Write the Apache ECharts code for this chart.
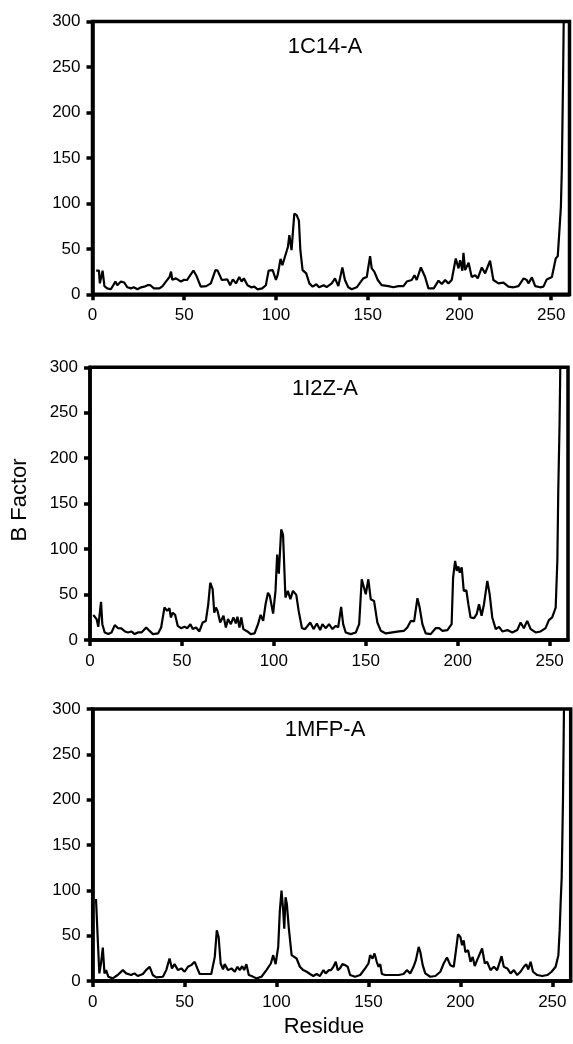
<!DOCTYPE html>
<html><head><meta charset="utf-8">
<script src="https://cdn.jsdelivr.net/npm/echarts@6/dist/echarts.min.js"></script>
<style>html,body{margin:0;padding:0;background:#fff}#c{width:573px;height:1044px}</style>
</head><body><div id="c"></div>
<script>
const panelTitles = ['1C14-A', '1I2Z-A', '1MFP-A'];
const xTickValues = [0, 50, 100, 150, 200, 250];
const xAxisTitle = 'Residue';
const yAxisTitle = 'B Factor';

// 1C14-A
const res1 = [2,3.5,4,5.5,6.5,8,10,12.5,13.5,15.5,17.3,19,21,22.5,24.5,26.5,28.2,30,31.5,33.5,36.5,38.2,40,42,42.8,43.5,45.5,48.2,50,51.5,53.3,55,56.5,57.5,59,62,64.5,67,68.2,70.5,71.5,73.5,75,76.5,78.2,80,81.3,82.5,84.5,86.5,88.2,90,92.5,94.5,96,98.2,100,101,102.5,103.5,106.5,107.3,108.5,110,111.3,112.5,113.3,114.5,116.5,118.2,120,122,123.5,126,127.6,130.4,132.2,134,136.2,137.6,139.4,141.3,144,147.6,149.5,151.3,152.2,153.6,155.5,157.6,161.3,164,166.7,169.5,171.3,174,175.5,176.7,179,181.3,183.1,186,188.6,190.4,192.2,194,195.8,198,199.5,200.4,201.6,202.2,203.1,205,206.7,208.6,210,212.2,214,216.7,218.5,221.3,224,226.7,229.5,232.2,235,236.7,237.6,239.5,241.3,244,245.8,247.6,250.4,251.3,252.5,253.6,254.5,255.3,255.8,256.5,257];
const b1 = [26,26,12,26,9,6.5,5.5,14,10,14,13,7.7,6.5,7.7,5.5,7.7,8.4,10,10,6.5,6.5,9,14,19,25,16,17.5,14,16,15.7,21,26,21,19,8.4,9,12,26.6,26,15.7,14,16.4,10,16.4,12,19,14,17.5,10,7.7,8.4,5.5,6.5,10,26,26.6,15.7,22,39,32,52,65,48.5,88.7,87,81,48.5,26.6,23,12,8.4,11,7.7,10,8,12,17.5,9,29.5,15.7,7.7,5.5,7.7,17.5,19,42,28.5,25,15.7,10,9,7.7,9,9,14,15.7,21,15.7,29.5,19,6.5,6.5,15,11.3,15.7,12,15.7,39.4,28.5,37.6,26,45.6,26.6,34.7,19,21,17.5,29.5,23,36.9,15.7,12,12.8,8.4,7.7,9,17.5,15.7,12,18.6,9,7.7,8.4,16.4,19,21,39.4,42,70,96,136,238,330];

// 1I2Z-A
const res2 = [1.8,3.6,4.5,6,6.7,8,10,11.7,13.5,15.3,17,19,20.7,22.5,24.3,26,28,30.6,32.4,34.2,37,38.7,40.5,42,43.2,44,45,46.3,47.7,49.5,51.4,53,54.6,55.9,57.7,59.5,61.3,63,64.3,65.4,66.7,67.6,68.5,69.4,70.8,72.6,73.9,75.1,76.6,78,79.3,80.2,81.3,82.3,83.4,85.6,87.4,89.5,91.4,92.8,94.2,95.5,96.8,97.8,99.6,100.9,101.8,102.7,104,105,106.3,107.6,109,110.4,112.2,113.5,115.3,117,119.8,121.6,123.4,125.2,126.4,128.3,130,131.9,133.7,135,136.6,137.7,139.1,141.8,144.6,146.4,147.8,148.7,150,151.4,152.7,154.5,156.3,158.2,160.9,164.5,168.1,170.8,172.6,174.5,176.3,178.1,179.3,180.8,182.6,185.3,188,189.9,191.7,194.4,196.7,197.5,198.6,199.5,200.4,201.1,202.2,203.3,204.7,205.8,207,208.9,210.3,211.6,213,214.3,216.1,217.4,218.8,220.7,222.5,224.3,227,229.7,232.4,234.2,236,237.8,239.7,242.4,245.1,247.8,249.6,251.4,253.3,254.2,254.7,255.4,256];
const b2 = [27.5,23,14.5,42,17.4,8.3,6.5,8.3,16.4,13,12.7,9.4,8.3,9.4,6.5,8.3,8.3,13.8,10,6.5,7.2,13.8,35.7,32,35,24.8,30,27.7,15.6,13,14.5,13,17.4,12,13.8,9.4,19.3,21,39,63,56,30,35.7,32,19.3,26.6,13.8,23,17.4,24.8,18.2,25.5,13.8,24.8,12,9.4,6.5,7.2,17.4,27.7,21,39.4,52,48.5,29,54,94,73,121.6,116,46.7,54,44.9,54,49.6,32,13,12,19.3,12,18.2,10.9,17.4,13,17.4,12,15.6,13.8,36.5,17.4,8.3,6.5,8.3,17.4,66.8,68.6,50.3,66.8,44.9,43,19.3,10.1,7.2,8.3,9.4,10.1,13.8,21,20.4,46,35.7,17.4,7.2,6.5,13,13,10.1,10.9,17.4,68.6,87,76,81,74,80,54,54.7,39.4,24.8,24,28.4,39.4,26.6,39.4,65,50.3,24.8,12,14.5,9.4,10.9,8.3,10.9,19.3,13,21,12,8.3,9.4,13,21.8,24.8,35.7,87,163,237,330];

// 1MFP-A
const res3 = [1.8,2.7,3.6,4.5,5.5,6.4,7.3,8.5,10.9,13.6,16.4,18.2,20.9,22.7,24.5,27.3,29,31,32.7,34.5,38.2,40,41.8,43.1,44.5,46.4,48.2,50,51.8,53.6,55.5,56.9,58.2,60.9,64.5,66.4,67.5,68.5,69.6,70.9,71.8,73.6,75.5,77.3,78.7,80,81.3,82.4,83.6,84.9,86.4,89.1,91.8,94.5,96.9,98.2,99.5,100.9,101.8,102.7,103.6,104.2,104.9,105.6,106.7,108.2,109.6,110.9,112.7,114.5,116.4,118.2,120,121.8,123.6,125.5,126.7,128.5,129.6,130.9,132.2,133.3,134.5,135.8,137.3,138.7,140,142.7,145.5,148.2,150,150.9,152.2,153.3,154.5,155.5,156.4,157.3,159.1,162.7,166.4,169.1,170.9,172.7,174.5,175.8,177.3,178.2,179.5,180.9,183.6,186.4,189.1,190.9,192.7,194.5,196.4,197.6,198.7,200,200.9,201.8,202.7,204.2,205.5,206.7,207.8,209.1,210,211.8,213.3,214.5,216.4,218.2,220,222.4,223.6,225.5,227.3,229.1,230.9,232.7,234.5,235.8,236.9,238.2,239.5,241.8,244.5,247.3,249.6,251.8,253.3,254,254.5,255.1,255.8,256.5];
const b3 = [90.5,48.5,8.4,19.3,36.9,8.4,12,4.7,2.9,6.6,12,8.4,6.6,8.4,5.5,7.7,12,15.7,6.6,4,4.7,12,24.8,13.9,18.6,12,13.9,10.2,15.7,17.5,21.2,13.9,7.7,7.7,7.7,26.6,55.8,48.5,19.3,12.8,18.6,12,13.9,10.2,15.7,12,16.4,12,18.6,6.6,5.5,2.9,4.7,12,19.3,28.5,18.6,37.6,77.7,99.6,77.7,57.7,92.3,85,57.7,28.5,26.6,24.8,15.7,12,10.2,7.7,5.5,7.7,5.5,12,8.4,12,12,15.7,21.2,12,13.9,18.6,17.5,15.7,6.6,4.7,6.6,13.9,19.3,28.5,24.8,30.3,21.2,15.7,18.6,7.7,6.6,6.6,6.6,7.7,12,8.4,15.7,23,37.6,32,17.5,8.4,4.7,5.5,10.2,19.3,25.9,17.5,15.7,33.9,51.5,48.5,39.4,44.9,32,33.9,21.2,26.6,16.4,23,21.2,35.8,19.3,21.2,12,15.7,12,27.4,15.7,13.9,8.4,12,6.6,10.2,15.7,18.6,12.8,21.2,10.2,6.6,5.5,6.6,10.2,15.7,28.5,55.8,85,114,200,330];

const residues = [res1, res2, res3];
const bfactors = [b1, b2, b3];

const FONT = '"Liberation Sans", Arial, sans-serif';
const grids = [
  {left: 92.5, top: 21.5, width: 477, height: 272.8},
  {left: 90, top: 367.3, width: 478, height: 272.7},
  {left: 92.7, top: 709, width: 478, height: 272}
];
const titleY = [47, 388.5, 730];

const chart = echarts.init(document.getElementById('c'), null, {renderer: 'canvas'});
const option = {
  animation: false,
  backgroundColor: '#fff',
  grid: grids.map(g => Object.assign({show: true, borderColor: '#000', borderWidth: 3.5, backgroundColor: 'transparent', containLabel: false}, g)),
  xAxis: grids.map((g, i) => ({
    type: 'value', gridIndex: i, min: 0, max: 260, interval: 50,
    axisLine: {show: true, lineStyle: {color: '#000', width: 3.5}},
    axisTick: {show: true, length: 6, lineStyle: {color: '#000', width: 3.5}, customValues: xTickValues},
    axisLabel: {color: '#000', fontSize: 17, fontFamily: FONT, margin: 13, customValues: xTickValues},
    splitLine: {show: false}
  })),
  yAxis: grids.map((g, i) => ({
    type: 'value', gridIndex: i, min: 0, max: 300, interval: 50,
    axisLine: {show: true, lineStyle: {color: '#000', width: 3.5}},
    axisTick: {show: true, length: 6, lineStyle: {color: '#000', width: 3.5}},
    axisLabel: {color: '#000', fontSize: 17, fontFamily: FONT, margin: 12},
    splitLine: {show: false}
  })),
  series: residues.map((r, i) => ({
    type: 'line', xAxisIndex: i, yAxisIndex: i,
    data: r.map((x, k) => [x, bfactors[i][k]]),
    showSymbol: false, symbol: 'none', clip: true,
    lineStyle: {color: '#000', width: 2.2}
  })),
  graphic: [
    ...panelTitles.map((t, i) => ({
      type: 'text', x: 325, y: titleY[i],
      style: {text: t, fill: '#000', font: '22px ' + FONT, align: 'center', verticalAlign: 'middle'}
    })),
    {type: 'text', x: 20, y: 500, rotation: Math.PI / 2,
     style: {text: yAxisTitle, fill: '#000', font: '22px ' + FONT, align: 'center', verticalAlign: 'middle'}},
    {type: 'text', x: 324, y: 1027,
     style: {text: xAxisTitle, fill: '#000', font: '22px ' + FONT, align: 'center', verticalAlign: 'middle'}}
  ]
};
chart.setOption(option);
</script>
</body></html>
